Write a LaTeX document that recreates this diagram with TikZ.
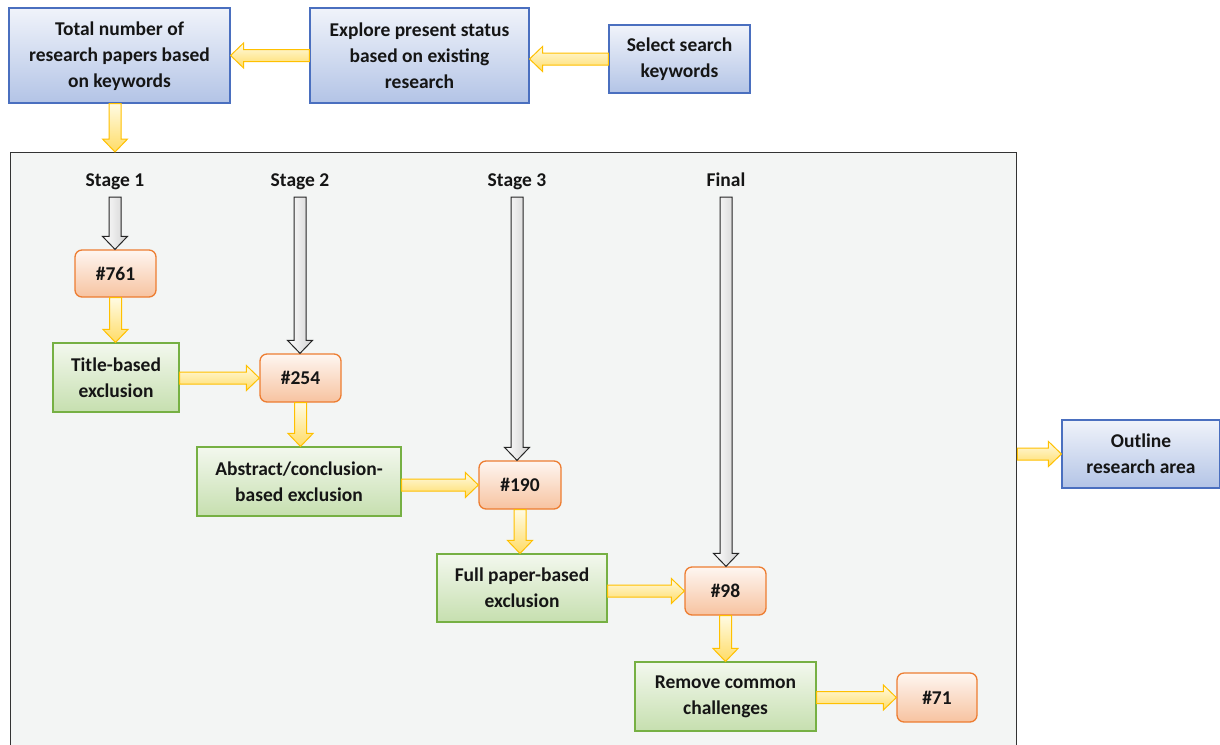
\documentclass[tikz,border=0pt]{standalone}
\usepackage{fontspec}
\setmainfont{Carlito}
\usetikzlibrary{calc}
\definecolor{bBord}{HTML}{4A6FBF}
\definecolor{bTop}{HTML}{F0F3FA}
\definecolor{bBot}{HTML}{B3C4E6}
\definecolor{oBord}{HTML}{ED7D31}
\definecolor{oTop}{HTML}{FEF6F1}
\definecolor{oBot}{HTML}{F7C3A0}
\definecolor{gBord}{HTML}{76B043}
\definecolor{gTop}{HTML}{F3F8EE}
\definecolor{gBot}{HTML}{C6DFAF}
\definecolor{yBord}{HTML}{FFC000}
\definecolor{yTop}{HTML}{FFFBE3}
\definecolor{yBot}{HTML}{FFDC66}
\definecolor{panelFill}{HTML}{F3F5F4}
\definecolor{txt}{HTML}{151515}
\def\sw{6pt}
\def\hw{12.5pt}
\def\hl{13pt}
\newcommand\harr[3]{\draw[#1] let \p1=(#2), \p2=(#3), \n1={sign(\x2-\x1)} in
  (\x1,\y1-\sw) -- ({\x2-\n1*\hl},\y1-\sw) -- ({\x2-\n1*\hl},\y1-\hw) -- (\x2,\y1)
  -- ({\x2-\n1*\hl},\y1+\hw) -- ({\x2-\n1*\hl},\y1+\sw) -- (\x1,\y1+\sw) -- cycle;}
\newcommand\varr[3]{\draw[#1] let \p1=(#2), \p2=(#3), \n1={sign(\y2-\y1)} in
  (\x1-\sw,\y1) -- (\x1-\sw,{\y2-\n1*\hl}) -- (\x1-\hw,{\y2-\n1*\hl}) -- (\x1,\y2)
  -- (\x1+\hw,{\y2-\n1*\hl}) -- (\x1+\sw,{\y2-\n1*\hl}) -- (\x1+\sw,\y1) -- cycle;}
\begin{document}
\begin{tikzpicture}[x=1pt,y=-1pt,
  base/.style={font=\bfseries\fontsize{19.5}{26}\selectfont, align=center, text=txt, line width=1.1pt, inner sep=0pt},
  bluebox/.style={base, draw=bBord, top color=bTop, bottom color=bBot},
  orangebox/.style={base, draw=oBord, top color=oTop, bottom color=oBot, rounded corners=7pt, line width=1.3pt},
  greenbox/.style={base, draw=gBord, top color=gTop, bottom color=gBot},
  stagelbl/.style={font=\bfseries\fontsize{19.5}{26}\selectfont, text=txt, inner sep=0pt, anchor=base},
  panelbox/.style={draw=black!80, fill=panelFill, line width=1.4pt, inner sep=0pt},
  yarr/.style={draw=yBord, line width=1pt, top color=yTop, bottom color=yBot, line join=miter},
  garr/.style={draw=black!85, line width=1pt, left color=white, right color=black!18, line join=miter}
]
\clip (0,0) rectangle (1220,744);
\fill[white] (0,0) rectangle (1220,744);

% panel
\node[panelbox, anchor=north west, minimum width=1006pt, minimum height=620pt] (panel) at (10,152) {};

% top boxes
\node[bluebox, minimum width=221pt, minimum height=95pt, text depth=2pt] (total) at (119.5,55.5) {Total number of\\research papers based\\on keywords};
\node[bluebox, minimum width=219pt, minimum height=95pt] (explore) at (419.5,55.5) {Explore present status\\based on existing\\research};
\node[bluebox, minimum width=141pt, minimum height=68pt] (select) at (679.5,59) {Select search\\keywords};
\node[bluebox, minimum width=158pt, minimum height=68pt] (outline) at (1141,454) {Outline\\research area};

% stage labels
\node[stagelbl] (s1) at (115,186) {Stage 1};
\node[stagelbl] (s2) at (300,186) {Stage 2};
\node[stagelbl] (s3) at (517,186) {Stage 3};
\node[stagelbl] (s4) at (726,186) {Final};

% count boxes
\node[orangebox, minimum width=81pt, minimum height=47pt] (o761) at (115.5,273.5) {\#761};
\node[orangebox, minimum width=81pt, minimum height=48pt] (o254) at (300.5,378) {\#254};
\node[orangebox, minimum width=82pt, minimum height=48pt] (o190) at (520,485) {\#190};
\node[orangebox, minimum width=81pt, minimum height=48pt] (o98) at (725.5,591) {\#98};
\node[orangebox, minimum width=80pt, minimum height=49pt] (o71) at (937,697.5) {\#71};

% exclusion boxes
\node[greenbox, minimum width=126pt, minimum height=69pt] (t1) at (116,377.5) {Title-based\\exclusion};
\node[greenbox, minimum width=204pt, minimum height=69pt] (t2) at (299,481.5) {Abstract/conclusion-\\based exclusion};
\node[greenbox, minimum width=170pt, minimum height=68pt] (t3) at (522,588) {Full paper-based\\exclusion};
\node[greenbox, minimum width=181pt, minimum height=69pt] (t4) at (725.5,696.5) {Remove common\\challenges};

\coordinate (tp) at (115,152);

% top arrows
\harr{yarr}{explore.west |- total.east}{total.east}
\harr{yarr}{select.west}{explore.east |- select.west}
\varr{yarr}{total.south -| tp}{tp}
\harr{yarr}{panel.east |- outline.west}{outline.west}

% gray stage arrows
\varr{garr}{$(s1.base)+(0,11)$}{s1.base |- o761.north}
\varr{garr}{$(s2.base)+(0,11)$}{s2.base |- o254.north}
\varr{garr}{$(s3.base)+(0,11)$}{s3.base |- o190.north}
\varr{garr}{$(s4.base)+(0,11)$}{s4.base |- o98.north}

% yellow flow arrows
\varr{yarr}{o761.south}{t1.north -| o761.south}
\harr{yarr}{t1.east |- o254.west}{o254.west}
\varr{yarr}{o254.south}{t2.north -| o254.south}
\harr{yarr}{t2.east |- o190.west}{o190.west}
\varr{yarr}{o190.south}{t3.north -| o190.south}
\harr{yarr}{t3.east |- o98.west}{o98.west}
\varr{yarr}{o98.south}{t4.north -| o98.south}
\harr{yarr}{t4.east |- o71.west}{o71.west}
\end{tikzpicture}
\end{document}
